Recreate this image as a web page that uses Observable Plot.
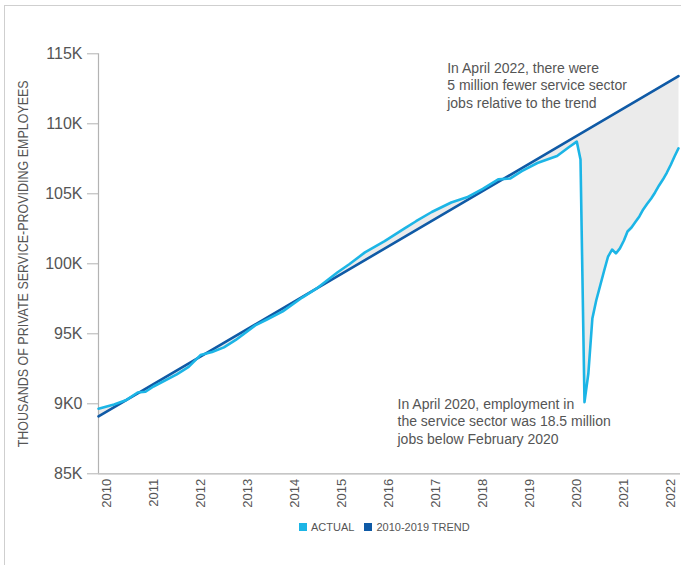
<!DOCTYPE html>
<html><head><meta charset="utf-8">
<script src="https://cdn.jsdelivr.net/npm/d3@7"></script>
<script src="https://cdn.jsdelivr.net/npm/@observablehq/plot@0.6"></script>
<style>
body{margin:0;background:#fff;}
#wrap{position:relative;width:683px;height:565px;overflow:hidden;font-family:"Liberation Sans",Arial,sans-serif;}
#border{position:absolute;left:4px;top:5px;width:676px;height:600px;border-left:1.5px solid #cfcfcf;border-top:1.5px solid #cfcfcf;}
#chart{position:absolute;left:0;top:0;}
#legend{position:absolute;left:299px;top:521px;font-size:11px;color:#555;display:flex;align-items:center;white-space:nowrap;}
.sw{display:inline-block;width:8px;height:8px;margin-right:4px;}
</style></head>
<body>
<div id="wrap">
  <div id="border"></div>
  <div id="chart"></div>
  <div id="legend"></div>
</div>
<script>
// ---- data ----
const actualMonths = ["2009-12","2010-04","2010-07","2010-10","2010-12","2011-02","2011-08","2011-11","2012-02","2012-05","2012-08","2012-11","2013-04","2013-07","2013-11","2014-04","2014-08","2015-01","2015-04","2015-08","2016-01","2016-06","2016-09","2017-01","2017-06","2017-10","2018-02","2018-06","2018-09","2018-12","2019-04","2019-09","2019-12","2020-02","2020-03","2020-04","2020-05","2020-06","2020-07","2020-08","2020-09","2020-10","2020-11","2020-12","2021-01","2021-02","2021-03","2021-04","2021-05","2021-06","2021-07","2021-08","2021-09","2021-10","2021-11","2021-12","2022-01","2022-02","2022-03","2022-04"];
const actualValues = [89650,89950,90250,90810,90860,91235,92100,92640,93480,93700,94030,94560,95600,96020,96600,97590,98300,99400,99965,100815,101620,102515,103040,103700,104380,104750,105355,106030,106090,106620,107200,107700,108325,108730,107450,90115,92165,96090,97380,98450,99520,100520,101020,100740,101100,101665,102310,102590,102985,103380,103880,104285,104665,105095,105595,106020,106520,107095,107665,108250];
const trendMonths = ["2009-12","2022-04"];
const trendValues = [89100,113400];
const yTicks = [85000,90000,95000,100000,105000,110000,115000];
const yTickLabels = ["85K","9K0","95K","100K","105K","110K","115K"];
const xTickYears = [2010,2011,2012,2013,2014,2015,2016,2017,2018,2019,2020,2021,2022];
const yTitle = "THOUSANDS OF PRIVATE SERVICE-PROVIDING EMPLOYEES";
const annotationTexts = ["In April 2022, there were\n5 million fewer service sector\njobs relative to the trend","In April 2020, employment in\nthe service sector was 18.5 million\njobs below February 2020"];
const annotationDates = ["2017-05-01","2016-04-10"];
const annotationValues = [114520,90520];
const legendLabels = ["ACTUAL","2010-2019 TREND"];

const C_ACTUAL = "#1cb5e6", C_TREND = "#0f5aa6", C_AREA = "#ebebeb", C_TEXT = "#555";

const parseM = s => new Date(s + (s.length === 7 ? "-01" : "") + "T00:00:00Z");
const actual = actualMonths.map((m,i)=>({date: parseM(m), value: actualValues[i]}));
const trend = trendMonths.map((m,i)=>({date: parseM(m), value: trendValues[i]}));
const gap = actual.concat(trend.slice().reverse());
const yLabel = new Map(yTicks.map((t,i)=>[t, yTickLabels[i]]));
const xTicks = xTickYears.map(y=>new Date(Date.UTC(y,0,1)));
const notes = annotationTexts.map((t,i)=>({text:t, date: parseM(annotationDates[i]), value: annotationValues[i]}));

const H = 515;
const chart = Plot.plot({
  width: 683, height: H,
  marginTop: 53.3, marginBottom: H - 473.3, marginLeft: 98, marginRight: 3,
  style: {fontFamily: '"Liberation Sans", Arial, sans-serif', background: "transparent", overflow: "visible"},
  x: {type: "utc", domain: [parseM("2009-12"), parseM("2022-04")], insetRight: 2},
  y: {domain: [85000, 115000]},
  marks: [
    Plot.line(gap, {x: "date", y: "value", fill: C_AREA, stroke: "none"}),
    Plot.ruleY([85000], {stroke: "#b3b3b3", strokeWidth: 1.2}),
    Plot.ruleX([parseM("2009-12")], {stroke: "#b3b3b3", strokeWidth: 1.2}),
    Plot.axisY({ticks: yTicks, tickFormat: d => yLabel.get(d), tickSize: 11, tickPadding: 5, fontSize: 16, label: null, stroke: "#b3b3b3", fill: C_TEXT}),
    Plot.axisX({ticks: xTicks, tickFormat: d => String(d.getUTCFullYear()), tickRotate: -90, tickSize: 0, tickPadding: 5, fontSize: 13, label: null, fill: C_TEXT, dx: 4}),
    Plot.line(trend, {x: "date", y: "value", stroke: C_TREND, strokeWidth: 2.6}),
    Plot.line(actual, {x: "date", y: "value", stroke: C_ACTUAL, strokeWidth: 2.6, strokeLinejoin: "round"}),
    Plot.text(notes, {x: "date", y: "value", text: "text", textAnchor: "start", lineAnchor: "top", lineHeight: 1.25, fontSize: 14, fill: C_TEXT}),
    Plot.text([yTitle], {frameAnchor: "left", textAnchor: "middle", rotate: -90, dx: -75.5, fontSize: 15, fill: C_TEXT})
  ]
});
document.getElementById("chart").appendChild(chart);

// condense the axis title to the reference length
d3.select(chart).selectAll("text").filter(function(){ return this.textContent === yTitle; })
  .attr("textLength", 367).attr("lengthAdjust", "spacingAndGlyphs");

const leg = d3.select("#legend");
[[C_ACTUAL, legendLabels[0]], [C_TREND, legendLabels[1]]].forEach(([c, t], i) => {
  const item = leg.append("span").style("display","inline-flex").style("align-items","center").style("margin-right", i === 0 ? "10px" : "0");
  item.append("span").attr("class","sw").style("background", c);
  item.append("span").text(t);
});
</script>
</body></html>
